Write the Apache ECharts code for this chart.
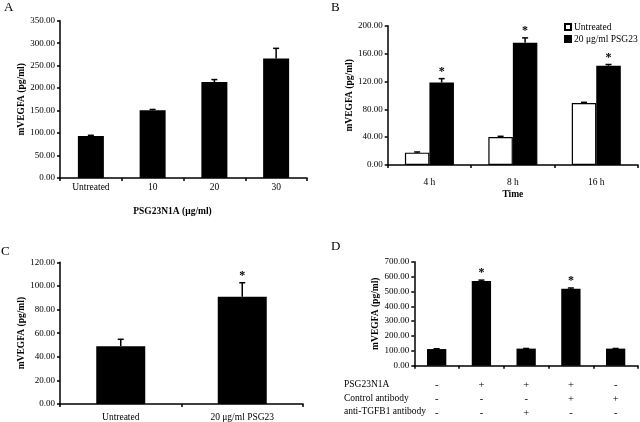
<!DOCTYPE html>
<html>
<head>
<meta charset="utf-8">
<script src="https://cdn.jsdelivr.net/npm/echarts@6/dist/echarts.min.js"></script>
<style>
html,body{margin:0;padding:0;background:#fff;}
#c{width:640px;height:422px;}
</style>
</head>
<body>
<div id="c"></div>
<script>
// Panel A
const aCats = ['Untreated', '10', '20', '30'];
const aMeans = [93.5, 151, 213.5, 266];
const aErrTop = [95, 152.5, 219, 288.5];
const aTicks = {min: 0, max: 350, interval: 50};
// Panel B
const bCats = ['4 h', '8 h', '16 h'];
const bUntreated = [17.7, 40.2, 89];
const bUntreatedErrTop = [18.7, 41.2, 90];
const bPSG = [118.5, 175.5, 142.5];
const bPSGErrTop = [124, 182.5, 144.3];
const bSig = [1, 1, 1];
const bTicks = {min: 0, max: 200, interval: 40};
// Panel C
const cCats = ['Untreated', '20 μg/ml PSG23'];
const cMeans = [48.9, 90.9];
const cErrTop = [54.8, 102.7];
const cSig = [0, 1];
const cTicks = {min: 0, max: 120, interval: 20};
// Panel D
const dCats = ['1', '2', '3', '4', '5'];
const dMeans = [112, 570, 115, 518, 115];
const dErrTop = [114, 576, 116, 523, 116];
const dSig = [0, 1, 0, 1, 0];
const dTicks = {min: 0, max: 700, interval: 100};
const dRowNames = ['PSG23N1A', 'Control antibody', 'anti-TGFB1 antibody'];
const dRowSigns = [
  ['-', '+', '+', '+', '-'],
  ['-', '-', '-', '+', '+'],
  ['-', '-', '+', '-', '-']
];

const FONT = '"Liberation Serif", "Times New Roman", serif';
const yName = 'mVEGFA (pg/ml)';

function yAxisCfg(gi, t) {
  return {
    type: 'value', gridIndex: gi, min: t.min, max: t.max, interval: t.interval,
    axisLine: {show: true, lineStyle: {color: '#000', width: 1.5}},
    axisTick: {show: true, length: 3, lineStyle: {color: '#000', width: 1.5}},
    splitLine: {show: false},
    axisLabel: {formatter: v => v.toFixed(2), fontSize: 9, color: '#000', margin: 5, fontFamily: FONT},
    name: yName, nameLocation: 'middle', nameGap: 33,
    nameTextStyle: {fontWeight: 'bold', fontSize: 9.5, color: '#000', fontFamily: FONT}
  };
}
function xAxisCfg(gi, cats, margin, extra) {
  return Object.assign({
    type: 'category', gridIndex: gi, data: cats,
    axisLine: {show: true, lineStyle: {color: '#000', width: 1.5}},
    axisTick: {show: true, length: 3, lineStyle: {color: '#000', width: 1.5}},
    axisLabel: {fontSize: 9.5, color: '#000', margin: margin, fontFamily: FONT, interval: 0}
  }, extra || {});
}
function errSeries(xi, means, tops, sig, offset) {
  return {
    type: 'custom', xAxisIndex: xi, yAxisIndex: xi, z: 4, silent: true,
    data: means.map((m, i) => [i, m, tops[i], sig ? sig[i] : 0]),
    encode: {x: 0, y: [1, 2]},
    renderItem: function (params, api) {
      const p0 = api.coord([api.value(0), api.value(1)]);
      const p1 = api.coord([api.value(0), api.value(2)]);
      const x = p0[0] + offset;
      const ch = [
        {type: 'line', shape: {x1: x, y1: p0[1], x2: x, y2: p1[1]}, style: {stroke: '#000', lineWidth: 1.5}},
        {type: 'line', shape: {x1: x - 3, y1: p1[1], x2: x + 3, y2: p1[1]}, style: {stroke: '#000', lineWidth: 1.5}}
      ];
      if (api.value(3)) {
        ch.push({type: 'text', style: {text: '*', x: x, y: p1[1] - 1, align: 'center', verticalAlign: 'bottom',
          font: 'bold 12px ' + FONT, fill: '#000'}});
      }
      return {type: 'group', children: ch};
    }
  };
}

const dLabels = dCats.map((c, i) => dRowSigns.map(r => r[i]).join('\n'));

const chart = echarts.init(document.getElementById('c'), null, {renderer: 'canvas'});
chart.setOption({
  animation: false,
  backgroundColor: '#fff',
  textStyle: {fontFamily: FONT},
  grid: [
    {left: 60, top: 20.7, width: 247, height: 157.3},
    {left: 387.7, top: 25.7, width: 250.3, height: 139.3},
    {left: 60, top: 262.3, width: 243, height: 141.7},
    {left: 414.3, top: 261.7, width: 223.7, height: 104}
  ],
  xAxis: [
    xAxisCfg(0, aCats, 4, {name: 'PSG23N1A (μg/ml)', nameLocation: 'middle', nameGap: 29,
      nameTextStyle: {fontWeight: 'bold', fontSize: 9.5, color: '#000', fontFamily: FONT, padding: [0, 22, 0, 0]}}),
    xAxisCfg(1, bCats, 12, {name: 'Time', nameLocation: 'middle', nameGap: 25,
      nameTextStyle: {fontWeight: 'bold', fontSize: 9.5, color: '#000', fontFamily: FONT}}),
    xAxisCfg(2, cCats, 8),
    xAxisCfg(3, dCats, 13, {axisLabel: {fontSize: 10.5, color: '#000', margin: 13, lineHeight: 13.7,
      fontFamily: FONT, interval: 0, formatter: (v, i) => dLabels[i]}})
  ],
  yAxis: [yAxisCfg(0, aTicks), yAxisCfg(1, bTicks), yAxisCfg(2, cTicks), yAxisCfg(3, dTicks)],
  legend: {
    left: 559, top: 17, orient: 'vertical', itemWidth: 6, itemHeight: 6, itemGap: 2,
    icon: 'rect',
    textStyle: {fontSize: 9.5, color: '#000', fontFamily: FONT, padding: [0, 0, 0, -2]},
    data: ['Untreated', '20 μg/ml PSG23']
  },
  series: [
    {type: 'bar', xAxisIndex: 0, yAxisIndex: 0, data: aMeans, barWidth: 26, itemStyle: {color: '#000'}},
    errSeries(0, aMeans, aErrTop, null, 0),
    {type: 'bar', name: 'Untreated', xAxisIndex: 1, yAxisIndex: 1, data: bUntreated, barWidth: 24.5, barGap: '0%',
      itemStyle: {color: '#fff', borderColor: '#000', borderWidth: 1.2}},
    {type: 'bar', name: '20 μg/ml PSG23', xAxisIndex: 1, yAxisIndex: 1, data: bPSG, barWidth: 24.5, barGap: '0%',
      itemStyle: {color: '#000', borderColor: '#000', borderWidth: 1.2}},
    errSeries(1, bUntreated, bUntreatedErrTop, null, -12.25),
    errSeries(1, bPSG, bPSGErrTop, bSig, 12.25),
    {type: 'bar', xAxisIndex: 2, yAxisIndex: 2, data: cMeans, barWidth: 49, itemStyle: {color: '#000'}},
    errSeries(2, cMeans, cErrTop, cSig, 0),
    {type: 'bar', xAxisIndex: 3, yAxisIndex: 3, data: dMeans, barWidth: 19.3, itemStyle: {color: '#000'}},
    errSeries(3, dMeans, dErrTop, dSig, 0)
  ],
  graphic: [
    {type: 'text', left: 4, top: 1, style: {text: 'A', font: '13px ' + FONT, fill: '#000'}},
    {type: 'text', left: 331, top: 1, style: {text: 'B', font: '13px ' + FONT, fill: '#000'}},
    {type: 'text', left: 1, top: 245, style: {text: 'C', font: '13px ' + FONT, fill: '#000'}},
    {type: 'text', left: 331, top: 240, style: {text: 'D', font: '13px ' + FONT, fill: '#000'}}
  ].concat(dRowNames.map((n, i) => ({
    type: 'text', left: 344, top: 379.5 + i * 13.7,
    style: {text: n, font: '9.5px ' + FONT, fill: '#000'}
  })))
});
</script>
</body>
</html>
